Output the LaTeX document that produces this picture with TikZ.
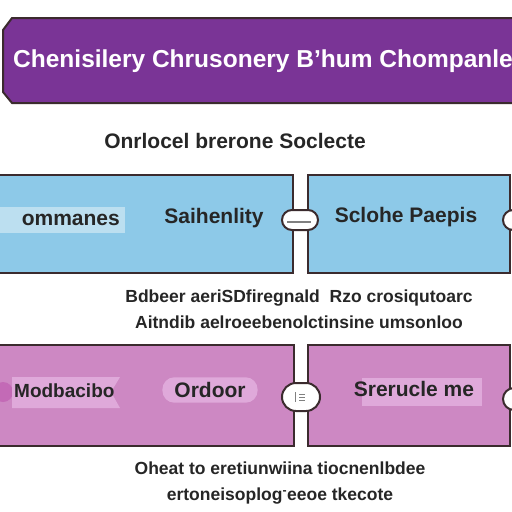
\documentclass[tikz,border=0pt]{standalone}
\usepackage{fontspec}
\setmainfont{Liberation Sans}
\usetikzlibrary{positioning,shapes.misc}
\definecolor{banner}{HTML}{7A3496}
\definecolor{skyfill}{HTML}{8DC9E8}
\definecolor{skylight}{HTML}{BCDFF0}
\definecolor{rosefill}{HTML}{CD88C3}
\definecolor{roselight}{HTML}{DFA9DA}
\definecolor{rosedark}{HTML}{C36AB6}
\definecolor{edge}{HTML}{3B2B2E}
\definecolor{ink}{HTML}{262626}
\begin{document}
\begin{tikzpicture}[
x=1pt,y=-1pt,
panel/.style={draw=edge,line width=2pt},
lbl/.style={font=\fontsize{21}{21}\selectfont\bfseries,text=ink,inner sep=0pt},
note/.style={font=\fontsize{17.5}{26}\selectfont\bfseries,text=ink,align=center,inner sep=0pt},
link/.style={rounded rectangle,draw=edge,fill=white,line width=2pt,minimum width=36pt,minimum height=20pt,inner sep=0pt}
]
\useasboundingbox[fill=white] (0,0) rectangle (512,512);

% title banner
\draw[panel,fill=banner] (12,18) -- (514,18) -- (514,103) -- (12,103) -- (3,92) -- (3,30) -- cycle;
\node (title)[font=\fontsize{24.5}{24}\selectfont\bfseries,text=white,inner sep=0pt] at (263,61) {Chenisilery Chrusonery B'hum Chompanle};
\node (sub)[font=\fontsize{21}{21}\selectfont\bfseries,text=ink,inner sep=0pt] at (235,141) {Onrlocel brerone Soclecte};

% blue row
\draw[panel,fill=skyfill] (-2,175) rectangle (293,273);
\draw[panel,fill=skyfill] (308,175) rectangle (510,273);
\fill[skylight] (0,207) rectangle (125,233);
\node (form)[lbl,anchor=east] at (120,220) {ommanes};
\node (sat)[lbl] at (214,218) {Saihenlity};
\node (scl)[lbl] at (406,217) {Sclohe Paepis};
\node (link1)[link] at (300,220) {};
\draw[gray,line width=1.5pt] (link1.west) ++(6,2) -- ++(24,0);
\node (link3)[link,minimum width=30pt] at (518,220) {};

\node (mid)[note] at (299,309) {Bdbeer aeriSDfiregnald\ \ Rzo crosiqutoarc\\Aitndib aelroeebenolctinsine umsonloo};

% pink row
\draw[panel,fill=rosefill] (-2,345) rectangle (294,446);
\draw[panel,fill=rosefill] (308,345) rectangle (510,446);
\fill[rosedark] (3,392) circle[radius=10];
\fill[roselight] (12,377) -- (120,377) -- (111,392) -- (120,408) -- (12,408) -- cycle;
\node (mod)[lbl,font=\fontsize{19}{19}\selectfont\bfseries,anchor=west] at (14,391) {Modbacibo};
\node (ord)[lbl,fill=roselight,rounded corners=12pt,inner xsep=12pt,inner ysep=5pt] at (210,390) {Ordoor};
\fill[roselight] (362,378) rectangle (482,406);
\node (srer)[lbl] at (414,389) {Srerucle me};
\node (link2)[link,minimum width=38pt,minimum height=28pt] at (301,397) {};
\draw[gray,line width=1pt] (link2.center) ++(-6,-5) -- ++(0,10) (link2.center) ++(-2,-3) -- ++(6,0) ++(-6,3) -- ++(6,0) ++(-6,3) -- ++(6,0);
\node (link4)[circle,draw=edge,fill=white,line width=2pt,minimum size=22pt,inner sep=0pt] at (514,399) {};

\node (bot)[note] at (280,483) {Oheat to eretiunwiina tiocnenlbdee\\ertoneisoplog\textsuperscript{-}eeoe tkecote};
\end{tikzpicture}
\end{document}
